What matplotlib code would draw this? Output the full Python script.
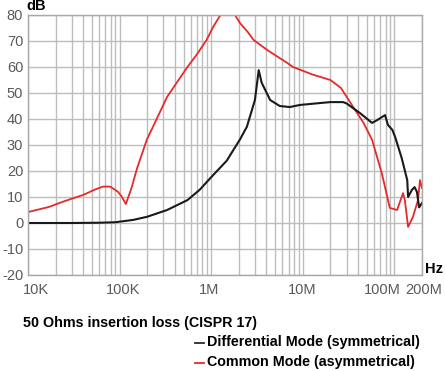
import matplotlib.pyplot as plt
from matplotlib.ticker import FixedLocator, NullFormatter
from matplotlib.transforms import offset_copy

# frequencies in Hz, attenuation in dB
dm_freq = [1e4, 3e4, 6e4, 9e4, 1.05e5, 1.41e5, 2e5, 3.3e5, 5.5e5, 7.5e5, 9.8e5, 1.48e6,
           1.74e6, 2.05e6, 2.45e6, 3.0e6, 3.3e6, 3.55e6, 4.4e6, 5.6e6, 7.2e6, 9.3e6, 1.4e7,
           2e7, 2.75e7, 3e7, 4.2e7, 5.7e7, 6.5e7, 7.9e7, 8.5e7, 9.5e7, 1.02e8, 1.2e8,
           1.38e8, 1.41e8, 1.55e8, 1.66e8, 1.76e8, 1.86e8, 2e8]
dm_db = [0, 0, 0.1, 0.3, 0.6, 1.2, 2.4, 5, 8.8, 12.8, 17.3, 24,
         28, 32, 37, 47.3, 58.8, 54, 47.3, 45, 44.6, 45.4, 46,
         46.5, 46.5, 46, 42.3, 38.5, 39.6, 41.5, 37.7, 35.8, 33, 25,
         16.5, 10, 12.7, 13.8, 12, 6, 7.7]

cm_freq = [1e4, 1.7e4, 2.5e4, 4e4, 5.5e4, 6.6e4, 7.9e4, 9.6e4, 1.06e5, 1.17e5, 1.35e5,
           1.55e5, 1.98e5, 2.7e5, 3.3e5, 4.4e5, 5.5e5, 6.9e5, 8.9e5, 1.05e6,
           1.26e6, 1.5e6, 1.82e6, 2.05e6, 2.5e6, 2.9e6, 4.1e6, 6.8e6, 7.8e6, 1.3e7, 2e7,
           2.6e7, 3.55e7, 4.6e7, 5.7e7, 7.3e7, 8.9e7, 1.07e8, 1.24e8, 1.3e8, 1.41e8,
           1.59e8, 1.81e8, 1.9e8, 2e8]
cm_db = [4.2, 6.2, 8.4, 10.8, 13, 14, 14, 12, 10, 7.3, 13.5,
         21, 32, 42, 48.5, 55, 60, 64.6, 70.4, 75.4,
         80, 88, 80, 77, 73.5, 70.4, 66.5, 61.5, 60, 57, 55,
         52, 44.6, 38.5, 32, 19, 5.8, 5, 11.5, 8.8, -1.5,
         2.3, 8.8, 16.5, 13.5]

x_ticks = [1e4, 1e5, 1e6, 1e7, 1e8, 2e8]
x_labels = ['10K', '100K', '1M', '10M', '100M', '200M']
x_label_shift = [8, 3, -2, -1, -12, 2]  # px, labels nudged as in the original
y_ticks = list(range(-20, 81, 10))
y_labels = [str(v) for v in y_ticks]  # plain hyphen, as in the original

plt.rcParams['font.family'] = ['Liberation Sans', 'DejaVu Sans']

fig = plt.figure(figsize=(4.45, 3.71), dpi=100)
ax = fig.add_axes([28 / 445, 1 - 275 / 371, 394 / 445, 260 / 371])

ax.set_xscale('log')
ax.set_xlim(1e4, 2e8)
ax.set_ylim(-20, 80)

minor = [m * 10 ** e for e in range(4, 9) for m in range(2, 10) if m * 10 ** e < 2e8]
ax.xaxis.set_major_locator(FixedLocator(x_ticks))
ax.xaxis.set_minor_locator(FixedLocator(minor))
ax.xaxis.set_minor_formatter(NullFormatter())
ax.xaxis.set_major_formatter(NullFormatter())
ax.set_yticks(y_ticks)
ax.set_yticklabels(y_labels)

ax.grid(True, which='both', axis='x', color='#bdbdbd', lw=1.0)
ax.grid(True, which='major', axis='y', color='#bdbdbd', lw=1.0)
ax.set_axisbelow(True)
for s in ax.spines.values():
    s.set_color('#a8a8a8')
    s.set_linewidth(1.0)

ax.tick_params(which='both', length=0, labelsize=10.5, labelcolor='#5a5a5a', pad=3.5)

for f, lab, dx in zip(x_ticks, x_labels, x_label_shift):
    tr = offset_copy(ax.get_xaxis_transform(), fig=fig, x=dx, y=-8, units='dots')
    ax.text(f, 0, lab, transform=tr, ha='center', va='top', fontsize=10.5, color='#5a5a5a')

ax.plot(cm_freq, cm_db, color='#e62a2a', lw=1.3)
ax.plot(dm_freq, dm_db, color='#1a1a1a', lw=1.5)

fig.text(26 / 445, 1 - 6 / 371, 'dB', fontsize=10.5, fontweight='bold', va='center', ha='left')
fig.text(425 / 445, 1 - 269 / 371, 'Hz', fontsize=10.5, fontweight='bold', va='center', ha='left')

fig.text(23 / 445, 1 - 323 / 371, '50 Ohms insertion loss (CISPR 17)', fontsize=10.3,
         fontweight='bold', va='center', ha='left')
fig.lines.append(plt.Line2D([195 / 445, 204 / 445], [1 - 343 / 371] * 2, color='#2a2a2a',
                            lw=1.3, transform=fig.transFigure))
fig.lines.append(plt.Line2D([195 / 445, 204 / 445], [1 - 363 / 371] * 2, color='#e62a2a',
                            lw=1.3, transform=fig.transFigure))
fig.text(207 / 445, 1 - 342 / 371, 'Differential Mode (symmetrical)', fontsize=10.3,
         fontweight='bold', va='center', ha='left')
fig.text(207 / 445, 1 - 362 / 371, 'Common Mode (asymmetrical)', fontsize=10.3,
         fontweight='bold', va='center', ha='left')

fig.savefig('out.png', dpi=100)
